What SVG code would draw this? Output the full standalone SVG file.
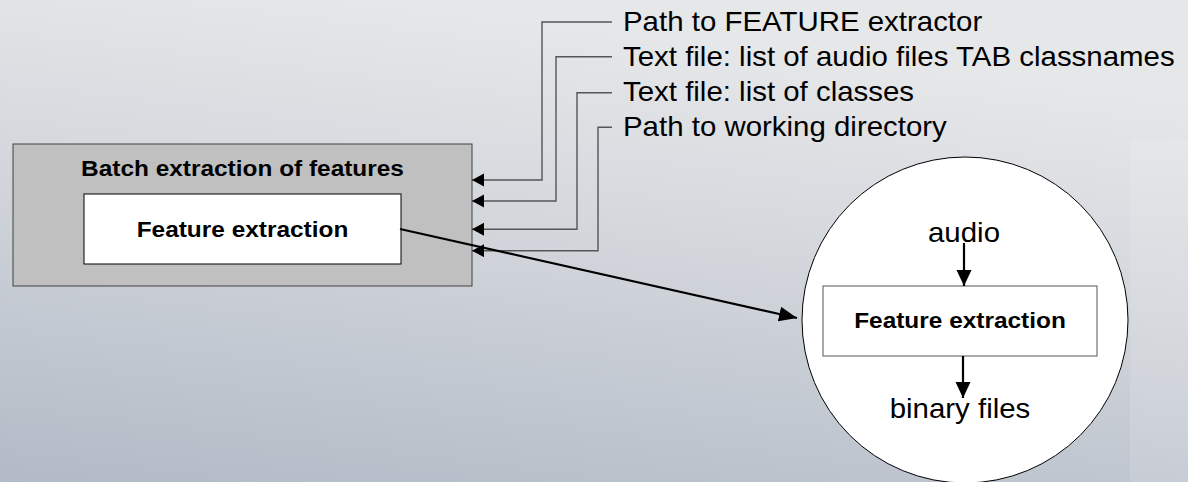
<svg xmlns="http://www.w3.org/2000/svg" width="1188" height="482" viewBox="0 0 1188 482">
  <defs>
    <linearGradient id="bg" x1="0" y1="1" x2="0.3" y2="0">
      <stop offset="0" stop-color="#b1bac6"/>
      <stop offset="0.55" stop-color="#d0d4da"/>
      <stop offset="1" stop-color="#e6e7e9"/>
    </linearGradient>
    <marker id="inArrow" markerUnits="userSpaceOnUse" markerWidth="14" markerHeight="14" refX="12" refY="6.5" orient="auto">
      <path d="M0,0 L12,6.5 L0,13 z" fill="#000"/>
    </marker>
    <marker id="bigArrow" markerUnits="userSpaceOnUse" markerWidth="20" markerHeight="16" refX="18" refY="7.5" orient="auto">
      <path d="M0,0 L18,7.5 L0,15 z" fill="#000"/>
    </marker>
    <marker id="downArrow" markerUnits="userSpaceOnUse" markerWidth="18" markerHeight="16" refX="16" refY="7.5" orient="auto">
      <path d="M0,0 L16,7.5 L0,15 z" fill="#000"/>
    </marker>
    <style>
      .lbl { font-family: "Liberation Sans", Arial, sans-serif; font-size: 27px; fill: #000; }
      .ttl { font-family: "Liberation Sans", Arial, sans-serif; font-size: 22px; font-weight: bold; fill: #000; }
      .mid { text-anchor: middle; }
      .feed { fill: none; stroke: #555; stroke-width: 1.4; marker-end: url(#inArrow); }
      .flow { fill: none; stroke: #000; stroke-width: 2.2; }
    </style>
  </defs>

  <!-- background -->
  <rect x="0" y="0" width="1188" height="482" fill="url(#bg)"/>
  <rect x="1130" y="140" width="58" height="342" fill="#ffffff" opacity="0.12"/>

  <!-- outer batch process with nested extractor -->
  <g id="batch">
    <rect x="13" y="144" width="459" height="142" fill="#c0c0c0" stroke="#404040" stroke-width="1"/>
    <text class="ttl mid" transform="translate(242.5 176) scale(1.11 1)">Batch extraction of features</text>
  </g>
  <g id="batch-extractor">
    <rect x="84" y="194" width="317" height="70" fill="#fff" stroke="#000" stroke-width="1"/>
    <text class="ttl mid" transform="translate(242.5 237) scale(1.11 1)">Feature extraction</text>
  </g>

  <!-- input labels -->
  <g id="inputs">
    <text class="lbl" transform="translate(623 31) scale(1.09 1)">Path to FEATURE extractor</text>
    <text class="lbl" transform="translate(623 65.5) scale(1.09 1)">Text file: list of audio files TAB classnames</text>
    <text class="lbl" transform="translate(623 101) scale(1.09 1)">Text file: list of classes</text>
    <text class="lbl" transform="translate(623 136) scale(1.09 1)">Path to working directory</text>
  </g>

  <!-- detail view of a single extraction -->
  <g id="detail">
    <circle cx="965" cy="320" r="163" fill="#fff" stroke="#000" stroke-width="1"/>
    <text class="lbl mid" transform="translate(964 242) scale(1.09 1)">audio</text>
    <rect x="823" y="286" width="274" height="70" fill="#fff" stroke="#555" stroke-width="1"/>
    <text class="ttl mid" transform="translate(960 328) scale(1.11 1)">Feature extraction</text>
    <text class="lbl mid" transform="translate(960 418) scale(1.09 1)">binary files</text>
  </g>

  <!-- connectors -->
  <g id="connectors">
    <path class="feed" d="M612,22 H542 V180 H472"/>
    <path class="feed" d="M612,56.7 H556 V201 H472"/>
    <path class="feed" d="M612,92.7 H577 V229.3 H472"/>
    <path class="feed" d="M612,127.3 H598 V250.7 H472"/>
    <path class="flow" d="M400,229 L797,318" marker-end="url(#bigArrow)"/>
    <path class="flow" d="M964,243 V286" marker-end="url(#downArrow)"/>
    <path class="flow" d="M963,356 V398" marker-end="url(#downArrow)"/>
  </g>
</svg>
